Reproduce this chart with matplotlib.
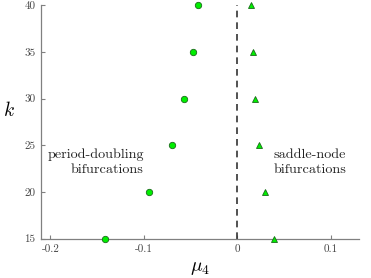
import matplotlib
matplotlib.use('Agg')
import matplotlib.pyplot as plt

# bifurcation points
k_vals = [15, 20, 25, 30, 35, 40]
mu_pd = [-0.142, -0.094, -0.070, -0.057, -0.048, -0.042]   # period-doubling
mu_sn = [0.039, 0.029, 0.023, 0.019, 0.017, 0.015]         # saddle-node
xticks = [-0.2, -0.1, 0, 0.1]
xticklabels = ['-0.2', '-0.1', '0', '0.1']
yticks = [15, 20, 25, 30, 35, 40]

plt.rcParams['font.family'] = 'serif'
plt.rcParams['font.serif'] = ['cmr10', 'DejaVu Serif']
plt.rcParams['mathtext.fontset'] = 'cm'
plt.rcParams['axes.unicode_minus'] = False

grey = '#808080'
fig = plt.figure(figsize=(3.71, 2.78), dpi=100)
ax = fig.add_axes([41/371, 1 - 238.7/278, (359-41)/371, (238.7-5.3)/278])

ax.plot(mu_pd, k_vals, 'o', ms=4.6, mfc='#00ee00', mec='#1a6a1a', mew=0.6, clip_on=False, zorder=3)
ax.plot(mu_sn, k_vals, '^', ms=4.8, mfc='#00ee00', mec='#1a6a1a', mew=0.6, clip_on=False, zorder=3)
ax.axvline(0, color='#333333', ls=(0, (4, 3)), lw=1.2, zorder=2)

ax.set_xlim(-0.21, 0.13)
ax.set_ylim(15, 40)
ax.set_xticks(xticks)
ax.set_xticklabels(xticklabels)
ax.set_yticks(yticks)
for s in ['top', 'right']:
    ax.spines[s].set_visible(False)
for s in ['left', 'bottom']:
    ax.spines[s].set_color(grey)
    ax.spines[s].set_linewidth(0.9)
ax.tick_params(direction='in', length=3, width=0.8, color=grey, labelcolor='#444444', labelsize=8, pad=4)

ax.set_xlabel(r'$\mu_4$', fontsize=14, labelpad=4)
ax.set_ylabel(r'$k$', fontsize=14, rotation=0, ha='center', va='center')
ax.yaxis.set_label_coords(-0.1, 0.55)

ax.text(-0.1, 23.2, 'period-doubling\nbifurcations', ha='right', va='center',
        multialignment='right', fontsize=10.2, color='#222222', linespacing=1.35)
ax.text(0.1165, 23.2, 'saddle-node\nbifurcations', ha='right', va='center',
        multialignment='right', fontsize=10.2, color='#222222', linespacing=1.35)

fig.savefig('out.png', dpi=100)
